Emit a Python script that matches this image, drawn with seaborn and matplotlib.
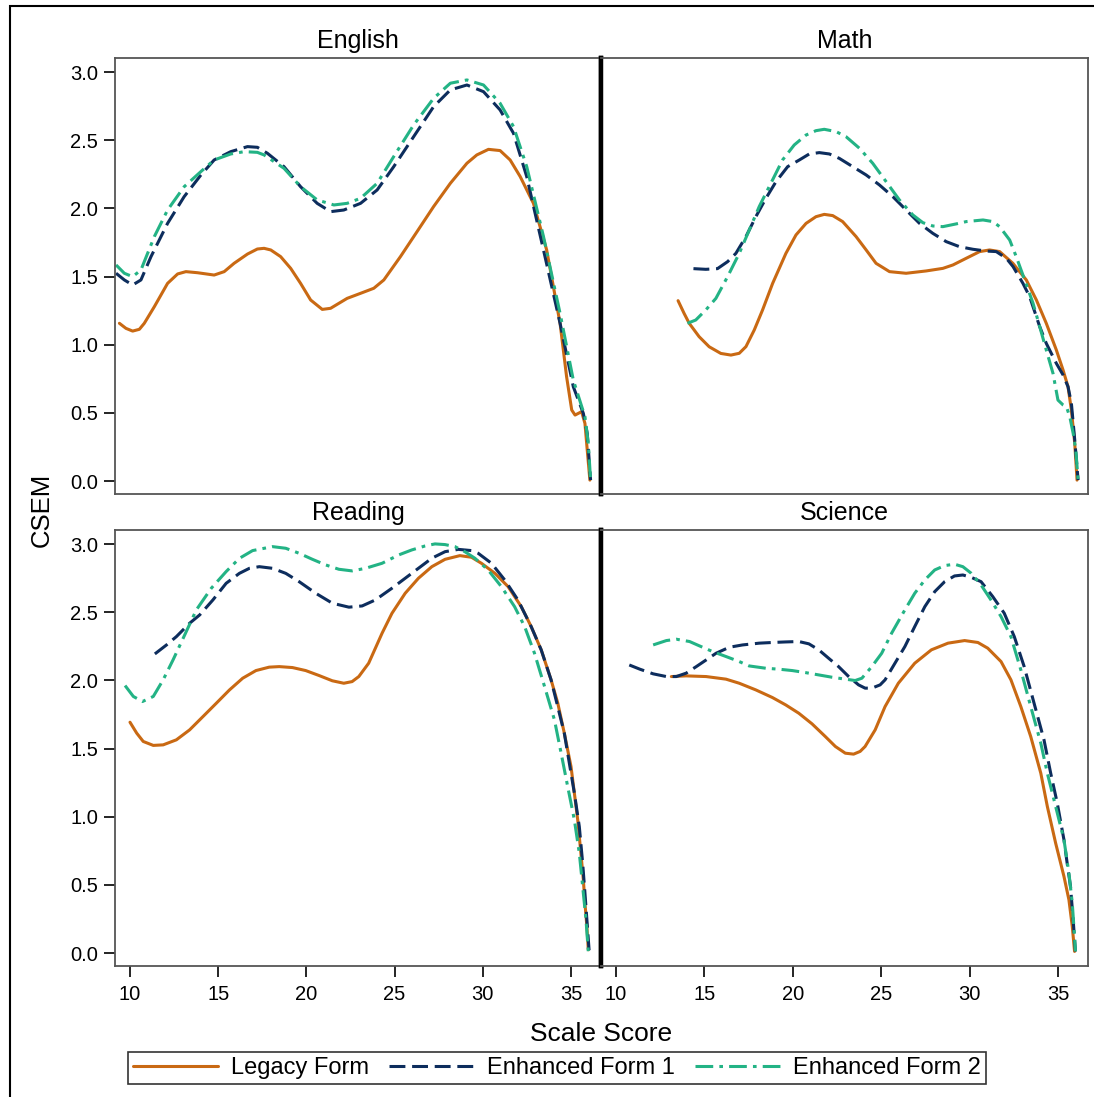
import numpy as np
import pandas as pd
import matplotlib
matplotlib.use("Agg")
import matplotlib.pyplot as plt
from matplotlib.lines import Line2D
from matplotlib.patches import Rectangle
import seaborn as sns

# ---------------- data ----------------
subjects = ["English", "Math", "Reading", "Science"]
forms = ["Legacy Form", "Enhanced Form 1", "Enhanced Form 2"]
x_ticks = [10, 15, 20, 25, 30, 35]
y_ticks = [0.0, 0.5, 1.0, 1.5, 2.0, 2.5, 3.0]

eng_legacy_x = [9.40, 9.77, 10.15, 10.53, 10.81, 11.38, 12.13, 12.70, 13.17, 13.83, 14.77, 15.34, 15.90, 16.66, 17.22, 17.60, 17.98, 18.54, 19.11, 19.67, 20.24, 20.90, 21.37, 22.31, 23.07, 23.82, 24.39, 25.33, 26.27, 27.21, 28.16, 29.10, 29.66, 30.32, 30.98, 31.55, 32.12, 32.87, 33.62, 34.38, 34.75, 35.04, 35.23, 35.60, 35.79, 35.92, 36.07]
eng_legacy_y = [1.157, 1.120, 1.100, 1.113, 1.157, 1.279, 1.450, 1.519, 1.536, 1.528, 1.511, 1.536, 1.597, 1.665, 1.702, 1.707, 1.695, 1.646, 1.560, 1.450, 1.328, 1.259, 1.267, 1.340, 1.377, 1.414, 1.475, 1.646, 1.829, 2.013, 2.184, 2.331, 2.392, 2.433, 2.424, 2.355, 2.233, 2.037, 1.695, 1.157, 0.765, 0.521, 0.484, 0.509, 0.423, 0.227, 0.007]
eng_enh1_x = [9.21, 9.68, 10.15, 10.62, 11.19, 12.13, 13.07, 14.02, 14.77, 15.71, 16.66, 17.22, 17.79, 18.73, 19.67, 20.61, 21.37, 22.12, 23.07, 24.01, 24.95, 26.08, 27.21, 28.16, 29.10, 30.04, 30.98, 31.74, 32.49, 33.44, 34.38, 35.13, 35.70, 35.92, 36.11]
eng_enh1_y = [1.524, 1.475, 1.438, 1.475, 1.646, 1.890, 2.086, 2.245, 2.355, 2.416, 2.453, 2.448, 2.404, 2.306, 2.159, 2.037, 1.976, 1.988, 2.037, 2.135, 2.306, 2.526, 2.746, 2.869, 2.905, 2.856, 2.722, 2.551, 2.233, 1.695, 1.157, 0.692, 0.496, 0.350, 0.007]
eng_enh2_x = [9.21, 9.68, 10.15, 10.62, 11.38, 12.13, 13.07, 14.02, 14.77, 15.71, 16.47, 17.22, 17.60, 18.73, 19.67, 20.61, 21.56, 22.31, 23.07, 24.01, 24.95, 26.08, 27.21, 28.16, 29.10, 30.04, 30.98, 31.74, 32.49, 33.44, 34.38, 35.13, 35.79, 35.98, 36.11]
eng_enh2_y = [1.585, 1.524, 1.499, 1.548, 1.793, 1.988, 2.159, 2.270, 2.355, 2.399, 2.416, 2.411, 2.392, 2.294, 2.159, 2.062, 2.025, 2.037, 2.074, 2.184, 2.380, 2.612, 2.807, 2.918, 2.942, 2.905, 2.771, 2.600, 2.306, 1.793, 1.230, 0.741, 0.472, 0.276, 0.007]

math_legacy_x = [13.51, 13.85, 14.14, 14.70, 15.27, 15.93, 16.50, 16.97, 17.35, 17.82, 18.29, 18.86, 19.61, 20.18, 20.75, 21.31, 21.78, 22.26, 22.82, 23.58, 24.15, 24.71, 25.47, 26.41, 27.54, 28.49, 29.06, 29.81, 30.57, 31.13, 31.70, 32.45, 33.21, 33.78, 34.34, 34.91, 35.29, 35.57, 35.76, 35.95, 36.08]
math_legacy_y = [1.323, 1.230, 1.157, 1.059, 0.985, 0.936, 0.924, 0.937, 0.986, 1.108, 1.255, 1.450, 1.670, 1.805, 1.890, 1.939, 1.956, 1.947, 1.903, 1.793, 1.695, 1.597, 1.536, 1.524, 1.541, 1.560, 1.585, 1.634, 1.683, 1.695, 1.683, 1.597, 1.475, 1.328, 1.157, 0.961, 0.814, 0.692, 0.521, 0.276, 0.007]
math_enh1_x = [14.38, 15.08, 15.74, 16.31, 16.78, 17.35, 17.91, 18.48, 19.05, 19.71, 20.37, 20.93, 21.50, 22.07, 22.63, 23.39, 24.15, 24.90, 25.66, 26.41, 27.17, 27.92, 28.68, 29.43, 30.19, 30.94, 31.51, 32.08, 32.46, 33.02, 33.40, 33.97, 34.34, 34.91, 35.29, 35.57, 35.76, 35.95, 36.14]
math_enh1_y = [1.558, 1.553, 1.558, 1.609, 1.670, 1.793, 1.939, 2.074, 2.196, 2.306, 2.355, 2.399, 2.409, 2.399, 2.367, 2.306, 2.245, 2.172, 2.086, 1.988, 1.890, 1.817, 1.756, 1.719, 1.700, 1.687, 1.683, 1.634, 1.573, 1.450, 1.352, 1.132, 1.010, 0.863, 0.778, 0.692, 0.570, 0.301, 0.007]
math_enh2_x = [14.04, 14.51, 15.08, 15.65, 16.31, 16.97, 17.54, 18.10, 18.76, 19.42, 20.08, 20.75, 21.31, 21.78, 22.45, 23.01, 23.77, 24.52, 25.28, 26.03, 26.79, 27.36, 27.92, 28.49, 29.24, 29.81, 30.76, 31.32, 31.70, 32.27, 32.64, 33.12, 33.59, 33.97, 34.34, 34.72, 35.00, 35.29, 35.48, 35.67, 35.86, 36.01, 36.14]
math_enh2_y = [1.157, 1.181, 1.255, 1.340, 1.499, 1.670, 1.842, 2.013, 2.184, 2.355, 2.465, 2.538, 2.570, 2.580, 2.563, 2.526, 2.441, 2.331, 2.196, 2.062, 1.952, 1.895, 1.871, 1.866, 1.886, 1.903, 1.915, 1.903, 1.866, 1.768, 1.646, 1.475, 1.304, 1.132, 0.961, 0.790, 0.594, 0.558, 0.545, 0.472, 0.350, 0.227, 0.007]

read_legacy_x = [10.00, 10.38, 10.75, 11.32, 11.88, 12.63, 13.38, 14.14, 14.89, 15.64, 16.39, 17.14, 17.89, 18.46, 19.21, 19.96, 20.71, 21.47, 22.12, 22.59, 22.97, 23.53, 24.29, 24.85, 25.60, 26.35, 27.11, 27.86, 28.70, 29.36, 29.92, 30.68, 31.43, 32.18, 32.74, 33.31, 33.87, 34.25, 34.62, 35.00, 35.19, 35.38, 35.56, 35.70, 35.79, 35.90, 35.98]
read_legacy_y = [1.693, 1.613, 1.552, 1.523, 1.527, 1.564, 1.637, 1.735, 1.832, 1.930, 2.016, 2.072, 2.097, 2.101, 2.094, 2.072, 2.036, 1.997, 1.979, 1.991, 2.028, 2.126, 2.346, 2.492, 2.639, 2.749, 2.834, 2.888, 2.915, 2.903, 2.859, 2.786, 2.688, 2.541, 2.395, 2.224, 2.004, 1.833, 1.613, 1.368, 1.173, 0.977, 0.733, 0.537, 0.366, 0.195, 0.024]
read_enh1_x = [11.41, 12.07, 12.63, 13.38, 13.95, 14.70, 15.45, 16.20, 16.77, 17.33, 18.08, 18.83, 19.59, 20.53, 21.47, 22.41, 23.16, 23.91, 24.85, 25.60, 26.35, 27.11, 27.86, 28.61, 29.36, 29.74, 30.49, 31.24, 31.99, 32.74, 33.31, 33.87, 34.62, 35.19, 35.47, 35.66, 35.79, 35.90, 36.03]
read_enh1_y = [2.194, 2.260, 2.321, 2.419, 2.480, 2.590, 2.712, 2.785, 2.822, 2.834, 2.822, 2.785, 2.724, 2.639, 2.566, 2.537, 2.546, 2.590, 2.676, 2.749, 2.822, 2.896, 2.944, 2.961, 2.952, 2.932, 2.859, 2.737, 2.590, 2.395, 2.224, 2.004, 1.613, 1.173, 0.928, 0.660, 0.440, 0.244, 0.012]
read_enh2_x = [9.72, 10.19, 10.71, 11.32, 11.88, 12.44, 13.10, 13.76, 14.61, 15.45, 16.20, 16.95, 18.08, 18.83, 19.59, 20.34, 21.09, 21.84, 22.59, 23.35, 24.29, 25.23, 25.98, 26.73, 27.29, 27.86, 28.42, 28.98, 29.55, 30.30, 31.05, 31.80, 32.37, 32.93, 33.50, 34.06, 34.44, 34.81, 35.19, 35.47, 35.66, 35.85, 35.98]
read_enh2_y = [1.962, 1.882, 1.845, 1.882, 2.004, 2.150, 2.333, 2.517, 2.676, 2.798, 2.895, 2.952, 2.981, 2.969, 2.932, 2.888, 2.847, 2.815, 2.803, 2.822, 2.859, 2.920, 2.957, 2.986, 3.001, 2.996, 2.981, 2.944, 2.896, 2.810, 2.688, 2.541, 2.395, 2.199, 1.955, 1.711, 1.466, 1.222, 0.977, 0.733, 0.489, 0.244, 0.012]

sci_legacy_x = [13.13, 13.97, 15.10, 16.22, 16.97, 17.91, 18.85, 19.60, 20.34, 21.09, 21.84, 22.41, 22.97, 23.44, 23.81, 24.09, 24.66, 25.22, 25.97, 26.90, 27.84, 28.78, 29.72, 30.47, 31.03, 31.78, 32.34, 32.90, 33.46, 34.03, 34.40, 34.87, 35.34, 35.62, 35.81, 35.94]
sci_legacy_y = [2.028, 2.033, 2.028, 2.009, 1.979, 1.930, 1.874, 1.820, 1.759, 1.681, 1.588, 1.515, 1.466, 1.459, 1.479, 1.515, 1.637, 1.808, 1.979, 2.126, 2.224, 2.273, 2.292, 2.278, 2.236, 2.138, 2.004, 1.808, 1.588, 1.319, 1.075, 0.806, 0.562, 0.391, 0.195, 0.012]
sci_enh1_x = [10.75, 11.35, 12.10, 12.85, 13.41, 13.97, 14.54, 15.10, 15.66, 16.41, 17.16, 18.10, 18.85, 19.60, 20.34, 20.91, 21.47, 22.03, 22.59, 23.16, 23.72, 24.09, 24.47, 24.94, 25.22, 25.78, 26.34, 26.90, 27.47, 28.03, 28.59, 29.15, 29.62, 30.09, 30.65, 31.31, 31.96, 32.53, 33.09, 33.65, 34.21, 34.59, 34.96, 35.34, 35.52, 35.71, 35.86, 35.99]
sci_enh1_y = [2.113, 2.082, 2.048, 2.028, 2.028, 2.053, 2.101, 2.150, 2.199, 2.243, 2.260, 2.273, 2.278, 2.282, 2.285, 2.268, 2.224, 2.162, 2.101, 2.028, 1.967, 1.943, 1.943, 1.967, 2.004, 2.126, 2.248, 2.395, 2.541, 2.651, 2.724, 2.766, 2.773, 2.756, 2.724, 2.615, 2.493, 2.321, 2.101, 1.832, 1.564, 1.319, 1.100, 0.831, 0.660, 0.489, 0.244, 0.012]
sci_enh2_x = [12.10, 12.85, 13.41, 14.16, 14.72, 15.47, 16.22, 16.97, 17.53, 18.47, 19.22, 19.97, 20.72, 21.47, 22.22, 22.97, 23.53, 23.91, 24.47, 25.03, 25.59, 26.34, 26.90, 27.47, 28.03, 28.59, 29.15, 29.62, 30.09, 30.65, 31.21, 31.78, 32.34, 32.90, 33.46, 34.03, 34.40, 34.87, 35.34, 35.62, 35.81, 35.90, 35.99]
sci_enh2_y = [2.260, 2.292, 2.302, 2.285, 2.253, 2.211, 2.175, 2.138, 2.106, 2.089, 2.082, 2.072, 2.057, 2.040, 2.023, 2.009, 1.999, 2.016, 2.101, 2.199, 2.346, 2.517, 2.639, 2.737, 2.810, 2.842, 2.852, 2.834, 2.786, 2.700, 2.590, 2.468, 2.321, 2.077, 1.808, 1.539, 1.319, 1.075, 0.831, 0.587, 0.367, 0.195, 0.012]

series = {
    ("English", "Legacy Form"): (eng_legacy_x, eng_legacy_y),
    ("English", "Enhanced Form 1"): (eng_enh1_x, eng_enh1_y),
    ("English", "Enhanced Form 2"): (eng_enh2_x, eng_enh2_y),
    ("Math", "Legacy Form"): (math_legacy_x, math_legacy_y),
    ("Math", "Enhanced Form 1"): (math_enh1_x, math_enh1_y),
    ("Math", "Enhanced Form 2"): (math_enh2_x, math_enh2_y),
    ("Reading", "Legacy Form"): (read_legacy_x, read_legacy_y),
    ("Reading", "Enhanced Form 1"): (read_enh1_x, read_enh1_y),
    ("Reading", "Enhanced Form 2"): (read_enh2_x, read_enh2_y),
    ("Science", "Legacy Form"): (sci_legacy_x, sci_legacy_y),
    ("Science", "Enhanced Form 1"): (sci_enh1_x, sci_enh1_y),
    ("Science", "Enhanced Form 2"): (sci_enh2_x, sci_enh2_y),
}

rows = []
for (subj, form), (xs, ys) in series.items():
    for xv, yv in zip(xs, ys):
        rows.append({"subject": subj, "form": form, "score": xv, "csem": yv})
df = pd.DataFrame(rows)

# ---------------- style ----------------
sns.set_theme(style="white")
plt.rcParams["font.family"] = ["Liberation Sans", "DejaVu Sans"]
plt.rcParams["text.color"] = "black"
plt.rcParams["axes.labelcolor"] = "black"
plt.rcParams["xtick.color"] = "black"
plt.rcParams["ytick.color"] = "black"

palette = {"Legacy Form": "#C96913", "Enhanced Form 1": "#0D2D5D", "Enhanced Form 2": "#23B385"}
LW = 2.2
dashes = {"Legacy Form": "", "Enhanced Form 1": (5.2, 2.2), "Enhanced Form 2": (5.8, 2.0, 1.2, 2.0)}

W, H = 1094, 1097
fig = plt.figure(figsize=(W / 100, H / 100), dpi=100)

def fr(x0, y0, x1, y1):
    return [x0 / W, 1 - y1 / H, (x1 - x0) / W, (y1 - y0) / H]

boxes = {
    "English": fr(115, 58, 601, 494),
    "Math": fr(601, 58, 1088, 494),
    "Reading": fr(115, 530, 601, 966),
    "Science": fr(601, 530, 1088, 966),
}

spine_col = "#555555"
for i, subj in enumerate(subjects):
    ax = fig.add_axes(boxes[subj])
    sub = df[df["subject"] == subj]
    sns.lineplot(data=sub, x="score", y="csem", hue="form", style="form",
                 hue_order=forms, style_order=forms, palette=palette,
                 dashes=dashes, estimator=None, sort=False, linewidth=LW,
                 legend=False, ax=ax)
    ax.set_xlim(9.15, 36.7)
    ax.set_ylim(-0.095, 3.103)
    ax.set_xlabel("")
    ax.set_ylabel("")
    ax.set_title(subj, fontsize=18, pad=7, color="black")
    for s in ax.spines.values():
        s.set_visible(True)
        s.set_color(spine_col)
        s.set_linewidth(1.3)
    left = i % 2 == 0
    bottom = i >= 2
    if left:
        ax.spines["right"].set_color("black")
        ax.spines["right"].set_linewidth(3.2)
        ax.set_yticks(y_ticks)
        ax.set_yticklabels([f"{v:.1f}" for v in y_ticks])
    else:
        ax.spines["left"].set_color("black")
        ax.spines["left"].set_linewidth(3.2)
        ax.set_yticks([])
    if bottom:
        ax.set_xticks(x_ticks)
        ax.set_xticklabels([str(v) for v in x_ticks])
    else:
        ax.set_xticks([])
    ax.tick_params(axis="y", direction="out", length=8, width=1.2,
                   color="black", labelcolor="black", labelsize=14.5, pad=4, left=left)
    ax.tick_params(axis="x", direction="out", length=8, width=1.2,
                   color="black", labelcolor="black", labelsize=14.5, pad=6, bottom=bottom)

fig.text(42 / W, 1 - 510 / H, "CSEM", rotation=90, ha="center", va="center",
         fontsize=18.5, color="black")
fig.text(601 / W, 1 - 1034 / H, "Scale Score", ha="center", va="center",
         fontsize=19, color="black")

handles = []
for f in forms:
    ln = Line2D([0], [0], color=palette[f], lw=LW)
    if dashes[f]:
        ln.set_dashes(dashes[f])
    handles.append(ln)
leg = fig.legend(handles, forms, loc="center", bbox_to_anchor=(557 / W, 1 - 1068 / H),
                 ncol=3, frameon=True, fancybox=False, fontsize=17,
                 handlelength=3.6, columnspacing=0.85, handletextpad=0.55,
                 borderpad=0.2, borderaxespad=0, labelcolor="black")
leg.get_frame().set_edgecolor("black")
leg.get_frame().set_linewidth(1.2)

fig.add_artist(Rectangle((10 / W, -0.1), 1.2, 1.1 - 6 / H, transform=fig.transFigure,
                         fill=False, lw=1.5, ec="black"))

fig.savefig("out.png", dpi=100)
